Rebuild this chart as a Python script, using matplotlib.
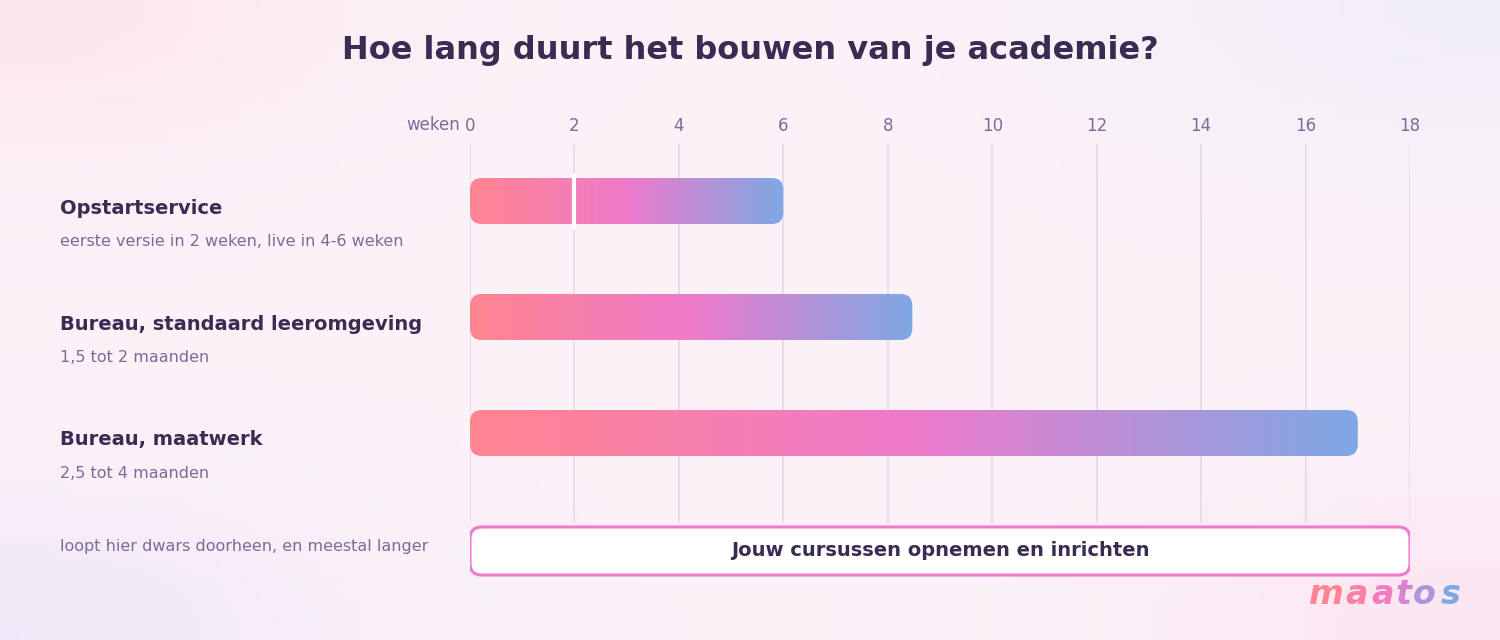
import matplotlib.pyplot as plt
import numpy as np
from matplotlib.patches import FancyBboxPatch
from matplotlib.colors import LinearSegmentedColormap

title = "Hoe lang duurt het bouwen van je academie?"
names = ["Opstartservice", "Bureau, standaard leeromgeving", "Bureau, maatwerk"]
subs = ["eerste versie in 2 weken, live in 4-6 weken", "1,5 tot 2 maanden", "2,5 tot 4 maanden"]
weeks = [6, 8.47, 17]
marker_week = 2
ticks = [0, 2, 4, 6, 8, 10, 12, 14, 16, 18]
band_label = "Jouw cursussen opnemen en inrichten"
band_note = "loopt hier dwars doorheen, en meestal langer"

dark = "#392B52"
muted = "#7D6A96"
grad = LinearSegmentedColormap.from_list("g", ["#FF8590", "#EE7ACB", "#7EA8E4"])

fig = plt.figure(figsize=(15, 6.4), dpi=100)

# background
bg = fig.add_axes([0, 0, 1, 1])
bg.set_axis_off()
yy, xx = np.mgrid[0:1:64j, 0:1:150j]
img = np.ones((64, 150, 3)) * np.array([0.985, 0.95, 0.975])
pink = np.exp(-((xx) ** 2 + (yy) ** 2) / 0.05)[..., None] * np.array([0.01, -0.05, -0.04])
lav = np.exp(-((xx - 1) ** 2 + (yy) ** 2) / 0.05)[..., None] * np.array([-0.04, -0.02, 0.0])
lav2 = np.exp(-((xx) ** 2 + (yy - 1) ** 2) / 0.05)[..., None] * np.array([-0.04, -0.04, 0.0])
pink2 = np.exp(-((xx - 1) ** 2 + (yy - 1) ** 2) / 0.05)[..., None] * np.array([0.0, -0.05, -0.03])
img = np.clip(img + pink + lav + lav2 + pink2, 0, 1)
bg.imshow(img, extent=[0, 1, 0, 1], aspect="auto", origin="upper")
bg.set_xlim(0, 1); bg.set_ylim(0, 1)

# main axes: x in weeks, y in pixels (top = 100, bottom = 600)
ax = fig.add_axes([470 / 1500, 40 / 640, 940 / 1500, 500 / 640])
ax.set_axis_off()
ax.patch.set_alpha(0)
pxw = 940 / 18

fig.text(0.5, 1 - 50 / 640, title, ha="center", va="center", fontsize=23, fontweight="bold", color=dark)

for t in ticks:
    ax.plot([t, t], [145, 522], color="#E6DAF0", lw=1.3, zorder=1)
    ax.text(t, 126, str(t), ha="center", va="center", fontsize=12, color=muted)
ax.text(-0.2, 125, "weken", ha="right", va="center", fontsize=12, color=muted)

rows = [201, 317, 433]
h = 46
for name, sub, w, yc in zip(names, subs, weeks, rows):
    patch = FancyBboxPatch((0, yc - h / 2), w, h, boxstyle="round,pad=0,rounding_size=0.22",
                           mutation_aspect=pxw, fc="none", ec="none")
    ax.add_patch(patch)
    im = ax.imshow(np.linspace(0, 1, 256)[None, :], cmap=grad, aspect="auto",
                   extent=[0, w, yc + h / 2, yc - h / 2], zorder=2)
    im.set_clip_path(patch)
    fig.text(60 / 1500, 1 - (yc + 7) / 640, name, ha="left", va="center", fontsize=14, fontweight="bold", color=dark)
    fig.text(60 / 1500, 1 - (yc + 41) / 640, sub, ha="left", va="center", fontsize=11.5, color=muted)

ax.plot([marker_week, marker_week], [176, 228], color="white", lw=3, zorder=3)
ax.set_xlim(0, 18); ax.set_ylim(600, 100)

box = FancyBboxPatch((0, 527), 18, 48, boxstyle="round,pad=0,rounding_size=0.22",
                     mutation_aspect=pxw, fc="white", ec="#EE7ACB", lw=2.2, zorder=3)
ax.add_patch(box)
ax.text(9, 550, band_label, ha="center", va="center", fontsize=14, fontweight="bold", color=dark, zorder=4)
fig.text(60 / 1500, 1 - 547 / 640, band_note, ha="left", va="center", fontsize=11.5, color=muted)

# logo
logo = "maatos"
cols = [grad(v) for v in np.linspace(0, 1, len(logo))]
xs = [1309, 1345, 1371, 1396, 1413, 1441]
for ch, c, x in zip(logo, cols, xs):
    fig.text(x / 1500, 1 - 595 / 640, ch, ha="left", va="center", fontsize=24,
             fontweight="bold", style="italic", color=c)

fig.savefig("out.png", dpi=100)
